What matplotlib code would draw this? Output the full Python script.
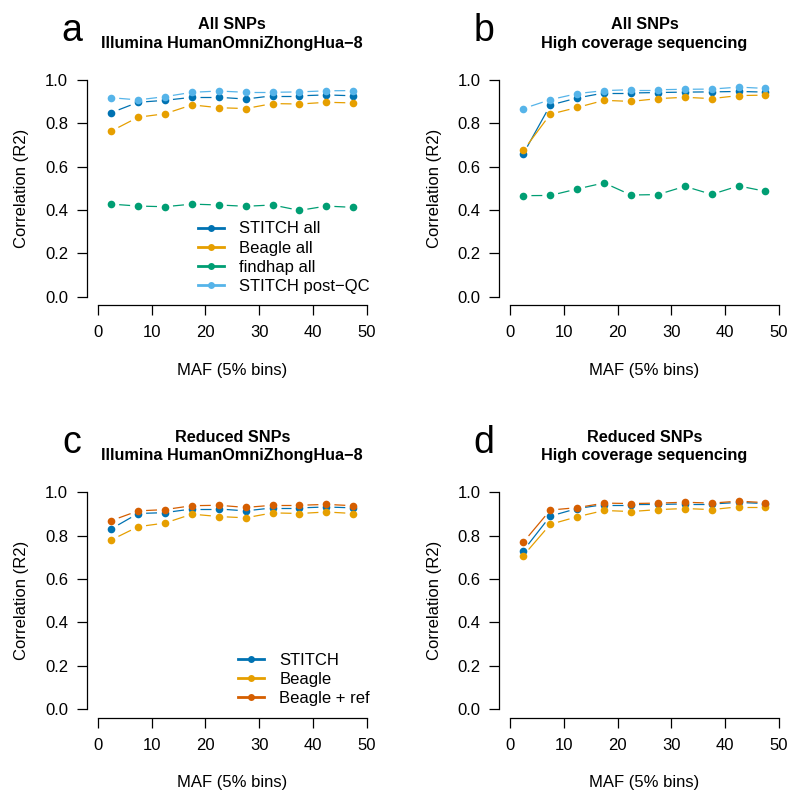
import matplotlib.pyplot as plt
from matplotlib.lines import Line2D
import numpy as np

plt.rcParams['font.family'] = ['Liberation Sans', 'DejaVu Sans']

maf_bins = [2.5, 7.5, 12.5, 17.5, 22.5, 27.5, 32.5, 37.5, 42.5, 47.5]

# panel a: all SNPs, Illumina array
a_stitch_all = [0.849, 0.897, 0.906, 0.920, 0.920, 0.912, 0.927, 0.927, 0.931, 0.927]
a_beagle_all = [0.764, 0.828, 0.844, 0.885, 0.872, 0.868, 0.891, 0.889, 0.897, 0.894]
a_findhap_all = [0.427, 0.418, 0.415, 0.427, 0.423, 0.417, 0.423, 0.398, 0.418, 0.412]
a_stitch_qc = [0.918, 0.908, 0.923, 0.943, 0.949, 0.943, 0.943, 0.945, 0.950, 0.951]

# panel b: all SNPs, high coverage sequencing
b_stitch_all = [0.660, 0.884, 0.917, 0.940, 0.940, 0.942, 0.944, 0.945, 0.947, 0.944]
b_beagle_all = [0.675, 0.842, 0.873, 0.906, 0.901, 0.914, 0.920, 0.914, 0.928, 0.930]
b_findhap_all = [0.466, 0.467, 0.497, 0.525, 0.469, 0.471, 0.509, 0.472, 0.511, 0.486]
b_stitch_qc = [0.868, 0.909, 0.937, 0.951, 0.955, 0.955, 0.957, 0.958, 0.967, 0.961]

# panel c: reduced SNPs, Illumina array
c_stitch = [0.831, 0.902, 0.906, 0.923, 0.923, 0.914, 0.928, 0.928, 0.932, 0.928]
c_beagle = [0.780, 0.841, 0.858, 0.899, 0.888, 0.882, 0.905, 0.902, 0.909, 0.902]
c_beagle_ref = [0.869, 0.914, 0.920, 0.938, 0.940, 0.930, 0.940, 0.940, 0.944, 0.938]

# panel d: reduced SNPs, high coverage sequencing
d_stitch = [0.731, 0.890, 0.925, 0.943, 0.943, 0.944, 0.946, 0.946, 0.953, 0.948]
d_beagle = [0.708, 0.852, 0.887, 0.916, 0.911, 0.920, 0.925, 0.920, 0.933, 0.933]
d_beagle_ref = [0.770, 0.918, 0.929, 0.950, 0.948, 0.950, 0.954, 0.950, 0.959, 0.952]

COL = {
    'stitch': '#0072B2',
    'beagle': '#E69F00',
    'findhap': '#009E73',
    'stitch_qc': '#56B4E9',
    'beagle_ref': '#D55E00',
}

FS = 12
W, H = 800, 805
AX_W, AX_H = 290.5, 234

fig = plt.figure(figsize=(8, 8.05), dpi=100)


def make_axes(left, top):
    # left/top of the plotting region in pixels
    return fig.add_axes([left / W, 1 - (top + AX_H) / H, AX_W / W, AX_H / H])


def style_axes(ax):
    ax.set_xlim(-2, 52)
    ax.set_ylim(-0.04, 1.04)
    for s in ['top', 'right']:
        ax.spines[s].set_visible(False)
    ax.spines['left'].set_bounds(0, 1)
    ax.spines['bottom'].set_bounds(0, 50)
    for s in ['left', 'bottom']:
        ax.spines[s].set_linewidth(0.9)
    ax.set_xticks([0, 10, 20, 30, 40, 50])
    ax.set_yticks([0.0, 0.2, 0.4, 0.6, 0.8, 1.0])
    ax.yaxis.set_major_formatter('{x:.1f}')
    ax.tick_params(length=7, width=0.9, labelsize=FS, direction='out')
    ax.tick_params(axis='x', pad=7.5)
    ax.tick_params(axis='y', pad=6.5)
    ax.text(0.5, -0.277, 'MAF (5% bins)', transform=ax.transAxes,
            ha='center', va='center', fontsize=FS)
    ax.text(-65 / AX_W, 0.5, 'Correlation (R2)', transform=ax.transAxes,
            ha='center', va='center', rotation=90, fontsize=FS)


def draw_b(ax, x, y, color, gap=8):
    # R type="b": points joined by lines that stop short of each point
    pts = ax.transData.transform(np.column_stack([x, y]))
    inv = ax.transData.inverted()
    for p0, p1 in zip(pts[:-1], pts[1:]):
        d = p1 - p0
        length = np.hypot(*d)
        if length <= 2 * gap:
            continue
        u = d / length
        seg = inv.transform(np.vstack([p0 + u * gap, p1 - u * gap]))
        ax.plot(seg[:, 0], seg[:, 1], color=color, lw=0.9, solid_capstyle='butt')
    ax.plot(x, y, 'o', color=color, ms=5.5, mec='none')


def add_legend(ax, labels, colors):
    handles = [Line2D([0], [0], color=c, lw=2, marker='o', ms=5, mec='none') for c in colors]
    ax.legend(handles, labels, loc='lower right', bbox_to_anchor=(0.997, 0.02),
              frameon=False, fontsize=FS, handlelength=1.6, handletextpad=0.9,
              labelspacing=0.25, borderaxespad=0, borderpad=0.4, numpoints=1)


panels = [
    ('a', 87, 71.3, ['All SNPs', 'Illumina HumanOmniZhongHua\u22128'],
     [a_stitch_all, a_beagle_all, a_findhap_all, a_stitch_qc],
     ['stitch', 'beagle', 'findhap', 'stitch_qc'],
     ['STITCH all', 'Beagle all', 'findhap all', 'STITCH post\u2212QC']),
    ('b', 499.2, 71.3, ['All SNPs', 'High coverage sequencing'],
     [b_stitch_all, b_beagle_all, b_findhap_all, b_stitch_qc],
     ['stitch', 'beagle', 'findhap', 'stitch_qc'], None),
    ('c', 87, 483.6, ['Reduced SNPs', 'Illumina HumanOmniZhongHua\u22128'],
     [c_stitch, c_beagle, c_beagle_ref],
     ['stitch', 'beagle', 'beagle_ref'],
     ['STITCH', 'Beagle', 'Beagle + ref']),
    ('d', 499.2, 483.6, ['Reduced SNPs', 'High coverage sequencing'],
     [d_stitch, d_beagle, d_beagle_ref],
     ['stitch', 'beagle', 'beagle_ref'], None),
]

for letter, left, top, title, series, keys, labels in panels:
    ax = make_axes(left, top)
    style_axes(ax)
    for vals, k in zip(series, keys):
        draw_b(ax, maf_bins, vals, COL[k])
    if labels:
        add_legend(ax, labels, [COL[k] for k in keys])
    cx = (left + AX_W / 2) / W
    fig.text(cx, 1 - (top - 42) / H, title[0], fontsize=11.7, fontweight='bold',
             ha='center', va='baseline')
    fig.text(cx, 1 - (top - 23.5) / H, title[1], fontsize=11.7, fontweight='bold',
             ha='center', va='baseline')
    fig.text((left - 15) / W, 1 - (top - 30.5) / H, letter, fontsize=27,
             ha='center', va='baseline')

fig.savefig('out.png', dpi=100)
